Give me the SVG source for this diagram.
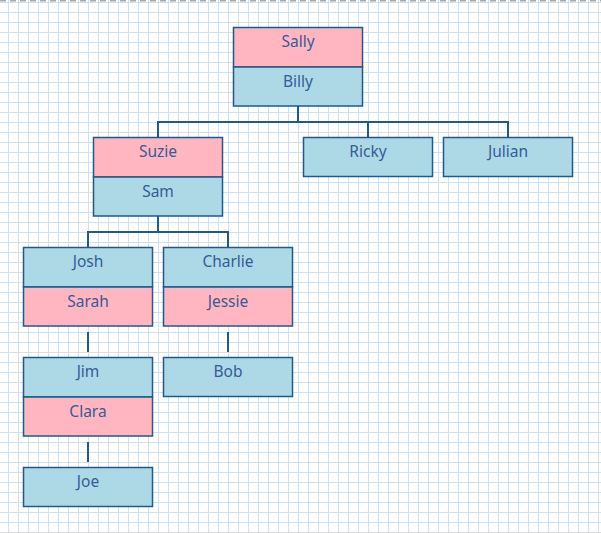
<svg xmlns="http://www.w3.org/2000/svg" width="601" height="533" viewBox="0 0 601 533">
<defs>
<pattern id="grid" x="0" y="0" width="10" height="10" patternUnits="userSpaceOnUse">
<path d="M8.5 0V10M0 2.5H10" stroke="#cfe0ee" stroke-width="1" fill="none"/>
</pattern>
<style>
.m{fill:#add8e6;stroke:#1f5a8a;stroke-width:1.5}
.f{fill:#ffb6c1;stroke:#1f5a8a;stroke-width:1.5}
.t{font-family:"Noto Sans","Open Sans",sans-serif;font-size:15.5px;fill:#355c96;text-anchor:middle}
.c{stroke:#1f5a8a;stroke-width:2;fill:none}
</style>
</defs>
<rect width="601" height="533" fill="#fff"/>
<rect width="601" height="533" fill="url(#grid)"/>
<line x1="0" y1="0.7" x2="601" y2="0.7" stroke="#a8a8a8" stroke-width="1.5" stroke-dasharray="6 4"/>
<g id="connectors">
<path class="c" d="M298 106V122M158 137V122H508V137M368 122V137"/>
<path class="c" d="M158 216V232M88 247V232H228V247"/>
<path class="c" d="M88 332V352M228 332V352M88 442V462"/>
</g>
<g id="sally-billy">
<rect class="f" x="233.5" y="27.5" width="129" height="39.5"/>
<rect class="m" x="233.5" y="67" width="129" height="39"/>
<text class="t" x="298" y="47">Sally</text>
<text class="t" x="298" y="87">Billy</text>
</g>
<g id="suzie-sam">
<rect class="f" x="93.5" y="137.5" width="129" height="39.5"/>
<rect class="m" x="93.5" y="177" width="129" height="39"/>
<text class="t" x="158" y="157">Suzie</text>
<text class="t" x="158" y="197">Sam</text>
</g>
<g id="ricky">
<rect class="m" x="303.5" y="137.5" width="129" height="39"/>
<text class="t" x="368" y="157">Ricky</text>
</g>
<g id="julian">
<rect class="m" x="443.5" y="137.5" width="129" height="39"/>
<text class="t" x="508" y="157">Julian</text>
</g>
<g id="josh-sarah">
<rect class="m" x="23.5" y="247.5" width="129" height="39.5"/>
<rect class="f" x="23.5" y="287" width="129" height="39"/>
<text class="t" x="88" y="267">Josh</text>
<text class="t" x="88" y="307">Sarah</text>
</g>
<g id="charlie-jessie">
<rect class="m" x="163.5" y="247.5" width="129" height="39.5"/>
<rect class="f" x="163.5" y="287" width="129" height="39"/>
<text class="t" x="228" y="267">Charlie</text>
<text class="t" x="228" y="307">Jessie</text>
</g>
<g id="jim-clara">
<rect class="m" x="23.5" y="357.5" width="129" height="39.5"/>
<rect class="f" x="23.5" y="397" width="129" height="39"/>
<text class="t" x="88" y="377">Jim</text>
<text class="t" x="88" y="417">Clara</text>
</g>
<g id="bob">
<rect class="m" x="163.5" y="357.5" width="129" height="39"/>
<text class="t" x="228" y="377">Bob</text>
</g>
<g id="joe">
<rect class="m" x="23.5" y="467.5" width="129" height="39"/>
<text class="t" x="88" y="487">Joe</text>
</g>
</svg>
